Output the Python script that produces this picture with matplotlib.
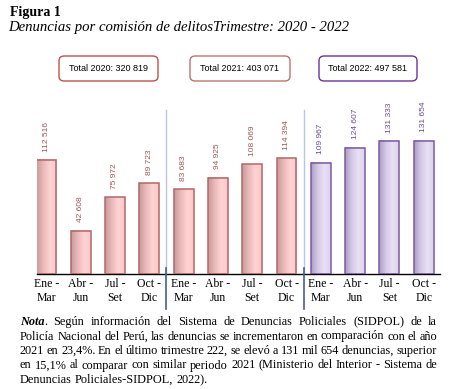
import numpy as np
import matplotlib
matplotlib.use("Agg")
import matplotlib.pyplot as plt
from matplotlib.patches import FancyBboxPatch
from matplotlib.colors import LinearSegmentedColormap

# Datos (denuncias por trimestre)
trimestres = ["Ene -\nMar", "Abr -\nJun", "Jul -\nSet", "Oct -\nDic"] * 3
valores = [112516, 42608, 75972, 89723,
           83683, 94925, 108069, 114394,
           109967, 124607, 131333, 131654]
anios = [2020] * 4 + [2021] * 4 + [2022] * 4
totales = {2020: "320 819", 2021: "403 071", 2022: "497 581"}

W, H = 450, 389
fig = plt.figure(figsize=(W / 100, H / 100), dpi=100)

def fx(px):
    return px / W

def fy(py):
    return 1 - py / H

serif = ["Liberation Serif", "DejaVu Serif"]
narrow = ["Liberation Sans Narrow", "Liberation Sans", "DejaVu Sans"]
sans = ["Liberation Sans", "DejaVu Sans"]

# Titulos
fig.text(fx(10), fy(16), "Figura 1", family=serif, weight="bold", fontsize=10)
fig.text(fx(8), fy(31), "Denuncias por comisión de delitosTrimestre: 2020 - 2022",
         family=serif, style="italic", fontsize=10.6)

# Ejes del grafico
ax = fig.add_axes([fx(37), fy(274), fx(440) - fx(37), fy(100) - fy(274)])
x = np.arange(len(valores))
ancho = 0.58
ax.set_xlim(-0.274, 11.475)
ax.set_ylim(0, 171700)

cmap_rosa = LinearSegmentedColormap.from_list("rosa", ["#c99b9b", "#eab8b8", "#ffd3d3", "#fcc8c8"])
cmap_lila = LinearSegmentedColormap.from_list("lila", ["#ab9dc4", "#d3c8e6", "#e8e0f4", "#ddd2ee"])
grad = np.linspace(0, 1, 64).reshape(1, -1)

bordes = ["#b06868" if a < 2022 else "#7d5aa0" for a in anios]
colores_txt = ["#a05555" if a < 2022 else "#6e4a96" for a in anios]
barras = ax.bar(x, valores, width=ancho, facecolor="none", edgecolor=bordes, linewidth=1.1, zorder=3)
for b, a, v, c in zip(barras, anios, valores, colores_txt):
    x0, w, h = b.get_x(), b.get_width(), b.get_height()
    ax.imshow(grad, extent=[x0, x0 + w, 0, h], aspect="auto",
              cmap=cmap_rosa if a < 2022 else cmap_lila, zorder=2)
    etiqueta = f"{v:,}".replace(",", " ")
    ax.annotate(etiqueta, (x0 + w / 2, h), xytext=(0, 6), textcoords="offset points",
                rotation=90, ha="center", va="bottom", fontsize=6, color=c, family=narrow)
ax.set_xlim(-0.274, 11.475)
ax.set_ylim(0, 171700)

# separadores entre anios
for sx in [3.5, 7.5]:
    ax.plot([sx, sx], [0, 161900], color="#b7c8dc", lw=1, zorder=1)
    ax.plot([sx, sx], [0.035, -0.2], color="#44608a", lw=1.2,
            transform=ax.get_xaxis_transform(), clip_on=False, zorder=4)

for s in ["top", "right", "left"]:
    ax.spines[s].set_visible(False)
ax.spines["bottom"].set_color("black")
ax.spines["bottom"].set_linewidth(1)
ax.set_yticks([])
ax.set_xticks(x)
ax.set_xticklabels(trimestres, family=serif, fontsize=8.5, linespacing=1.2)
ax.tick_params(axis="x", length=0, pad=3)

# cajas con totales
cajas = [(59, 158, 2020, "#c0504d"), (190, 290, 2021, "#c07070"), (319, 417, 2022, "#7030a0")]
for x0, x1, anio, col in cajas:
    caja = FancyBboxPatch((fx(x0), fy(81)), fx(x1 - x0), fy(56) - fy(81),
                          boxstyle="round,pad=0,rounding_size=0.012",
                          transform=fig.transFigure, facecolor="white", edgecolor=col, lw=1)
    fig.patches.append(caja)
    fig.text(fx((x0 + x1) / 2), fy(68.5), f"Total {anio}: {totales[anio]}",
             ha="center", va="center", fontsize=6.5, family=sans)

# Nota (texto justificado)
lineas = [
    "Nota. Según información del Sistema de Denuncias Policiales (SIDPOL) de la",
    "Policía Nacional del Perú, las denuncias se incrementaron en comparación con el año",
    "2021 en 23,4%. En el último trimestre 222, se elevó a 131 mil 654 denuncias, superior",
    "en 15,1% al comparar con similar periodo 2021 (Ministerio del Interior - Sistema de",
    "Denuncias Policiales-SIDPOL, 2022).",
]
fs_nota = 8.8
izq, der = 20, 437
fig.canvas.draw()
r = fig.canvas.get_renderer()
t_a = fig.text(0, 0, "a a", family=serif, fontsize=fs_nota)
t_b = fig.text(0, 0, "aa", family=serif, fontsize=fs_nota)
esp = t_a.get_window_extent(r).width - t_b.get_window_extent(r).width
t_a.remove()
t_b.remove()
for i, linea in enumerate(lineas):
    yb = fy(325 + i * 14.5)
    palabras = linea.split(" ")
    objs = []
    for j, p in enumerate(palabras):
        if i == 0 and j == 0:
            t1 = fig.text(0, yb, "Nota", family=serif, fontsize=fs_nota, weight="bold", style="italic")
            t2 = fig.text(0, yb, ".", family=serif, fontsize=fs_nota)
            objs.append([t1, t2])
        else:
            objs.append([fig.text(0, yb, p, family=serif, fontsize=fs_nota)])
    anchos = [sum(t.get_window_extent(r).width for t in o) for o in objs]
    if i < len(lineas) - 1:
        gap = (der - izq - sum(anchos)) / (len(objs) - 1)
    else:
        gap = esp
    pos = izq
    for o, a in zip(objs, anchos):
        p = pos
        for t in o:
            t.set_x(fx(p))
            p += t.get_window_extent(r).width
        pos += a + gap

fig.savefig("out.png", dpi=100)
